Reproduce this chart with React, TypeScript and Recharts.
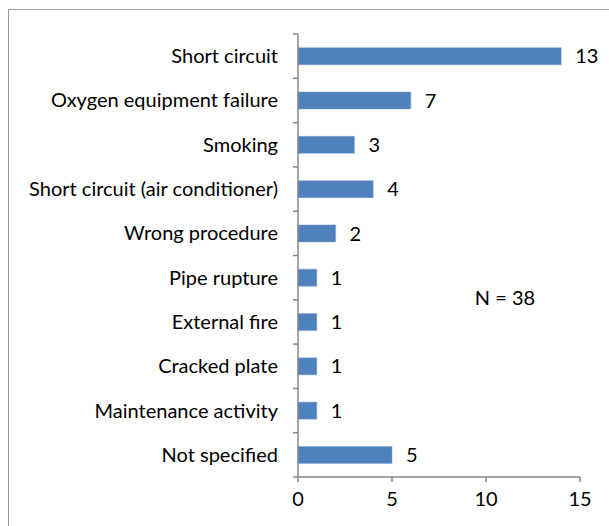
import React from "react";
import { BarChart, Bar, XAxis, YAxis, LabelList, Customized } from "recharts";

const categories = [
  "Short circuit",
  "Oxygen equipment failure",
  "Smoking",
  "Short circuit (air conditioner)",
  "Wrong procedure",
  "Pipe rupture",
  "External fire",
  "Cracked plate",
  "Maintenance activity",
  "Not specified",
];
const barValues = [14, 6, 3, 4, 2, 1, 1, 1, 1, 5];
const labelValues = [13, 7, 3, 4, 2, 1, 1, 1, 1, 5];
const xTicks = [0, 5, 10, 15];
const annotation = "N = 38";

const data = categories.map((name, i) => ({ name, value: barValues[i], label: labelValues[i] }));

const FONT = "Lato, 'Open Sans', sans-serif";
const AXIS = "#868686";
const FS = 20;

const YTick = (props: any) => {
  const { x, y, payload, index } = props;
  const half = payload.offset || 0;
  const ax = x + 20;
  return (
    <g>
      <line x1={ax - 5} x2={ax} y1={y - half} y2={y - half} stroke={AXIS} strokeWidth={1.5} />
      {index === categories.length - 1 && (
        <line x1={ax - 5} x2={ax} y1={y + half} y2={y + half} stroke={AXIS} strokeWidth={1.5} />
      )}
      <text x={x} y={y} dy="0.35em" textAnchor="end" fontSize={FS} fill="#000" fontFamily={FONT}>
        {payload.value}
      </text>
    </g>
  );
};

const Note = () => (
  <text x={505} y={298} dy="0.35em" textAnchor="middle" fontSize={FS} fill="#000" fontFamily={FONT}>
    {annotation}
  </text>
);

export default function App() {
  return (
    <div style={{ position: "fixed", left: 0, top: 0, width: 609, height: 526, overflow: "hidden", background: "#fff" }}>
      <div
        style={{
          position: "absolute",
          left: 8,
          top: 9,
          width: 700,
          height: 600,
          border: "1.5px solid #9a9a9a",
        }}
      />
      <div style={{ position: "absolute", left: 0, top: 0 }}>
        <BarChart
          width={609}
          height={526}
          data={data}
          layout="vertical"
          margin={{ top: 34, right: 29, bottom: 9, left: 0 }}
          barCategoryGap="31%"
        >
          <XAxis
            type="number"
            domain={[0, 15]}
            ticks={xTicks}
            stroke={AXIS}
            strokeWidth={1.5}
            tickSize={5}
            tickMargin={10}
            height={40}
            tick={{ fontSize: FS, fill: "#000", fontFamily: FONT }}
          />
          <YAxis
            type="category"
            dataKey="name"
            width={298}
            stroke={AXIS}
            strokeWidth={1.5}
            tickLine={false}
            tickSize={0}
            tickMargin={20}
            interval={0}
            tick={<YTick />}
          />
          <Bar dataKey="value" fill="#4F81BD" stroke="#7a9fd0" strokeWidth={0.5} isAnimationActive={false}>
            <LabelList dataKey="label" position="right" offset={14} fontSize={FS} fill="#000" fontFamily={FONT} />
          </Bar>
          <Customized component={Note} />
        </BarChart>
      </div>
    </div>
  );
}
